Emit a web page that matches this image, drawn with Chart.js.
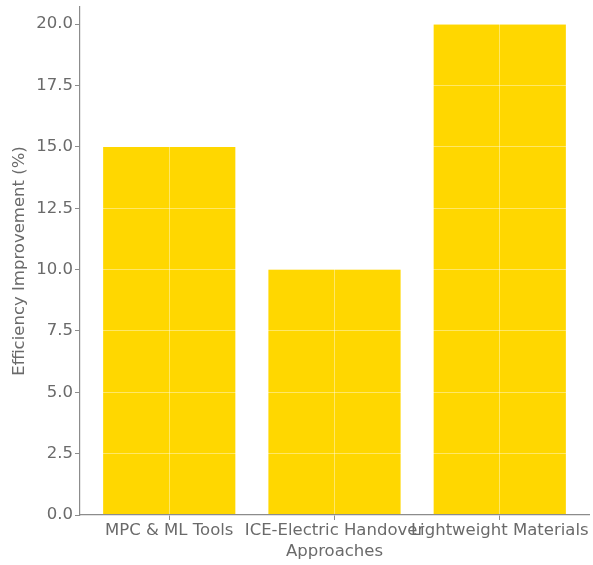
<!DOCTYPE html>
<html>
<head>
<meta charset="utf-8">
<script src="https://cdn.jsdelivr.net/npm/chart.js@4"></script>
<style>
    html, body { margin: 0; padding: 0; background: #ffffff; }
    #wrap { width: 593px; height: 565px; }
</style>
</head>
<body>
<div id="wrap"><canvas id="chart" width="593" height="565"></canvas></div>
<script>
// 資料
const categories = ['MPC & ML Tools', 'ICE-Electric Handover', 'Lightweight Materials'];
const efficiencyValues = [15, 10, 20];
const yTickValues = [0, 2.5, 5, 7.5, 10, 12.5, 15, 17.5, 20];

const COLORS = {
    bar: '#FFD700',
    text: '#6a6a6a',
    axis: '#8c8c8c',
    grid: 'rgba(255, 255, 255, 0.4)'
};

const FONT = { family: "'DejaVu Sans', sans-serif", size: 16.5 };

const points = categories.map((_, i) => ({ x: i, y: efficiencyValues[i] }));

new Chart(document.getElementById('chart'), {
    type: 'bar',
    data: {
        datasets: [{
            label: 'Efficiency Improvement (%)',
            data: points,
            backgroundColor: COLORS.bar,
            borderWidth: 0,
            barPercentage: 0.8,
            categoryPercentage: 1.0
        }]
    },
    options: {
        responsive: false,
        animation: false,
        layout: { padding: { top: 7, right: 4, left: 0, bottom: 0 } },
        plugins: {
            legend: { display: false },
            tooltip: { enabled: false }
        },
        scales: {
            x: {
                type: 'linear',
                min: -0.54,
                max: 2.54,
                offset: false,
                afterBuildTicks: (scale) => {
                    scale.ticks = categories.map((_, i) => ({ value: i }));
                },
                afterFit: (scale) => {
                    scale.height = 50;
                    scale.paddingLeft = 0;
                    scale.paddingRight = 0;
                },
                ticks: {
                    color: COLORS.text,
                    font: FONT,
                    padding: 1,
                    autoSkip: false,
                    maxRotation: 0,
                    minRotation: 0,
                    callback: (v) => categories[v]
                },
                grid: {
                    z: 1,
                    offset: false,
                    color: COLORS.grid,
                    tickColor: COLORS.axis,
                    tickLength: 5,
                    lineWidth: 1
                },
                // grid 在 bar 上層繪製，border 也要跟著放上層
                border: { color: COLORS.axis, width: 1.2, z: 2 },
                title: {
                    display: true,
                    text: 'Approaches',
                    color: COLORS.text,
                    font: FONT,
                    padding: { top: 0, bottom: 3 }
                }
            },
            y: {
                min: 0,
                max: 20.7,
                afterBuildTicks: (scale) => {
                    scale.ticks = yTickValues.map(v => ({ value: v }));
                },
                afterFit: (scale) => {
                    scale.width = 80;
                    scale.paddingTop = 0;
                    scale.paddingBottom = 0;
                },
                ticks: {
                    color: COLORS.text,
                    font: FONT,
                    padding: 2,
                    callback: (v) => Number(v).toFixed(1)
                },
                grid: {
                    z: 1,
                    color: COLORS.grid,
                    tickColor: COLORS.axis,
                    tickLength: 5,
                    lineWidth: 1
                },
                border: { color: COLORS.axis, width: 1.2, z: 2 },
                title: {
                    display: true,
                    text: 'Efficiency Improvement (%)',
                    color: COLORS.text,
                    font: FONT,
                    padding: { top: 10, bottom: 0 }
                }
            }
        }
    }
});
</script>
</body>
</html>
